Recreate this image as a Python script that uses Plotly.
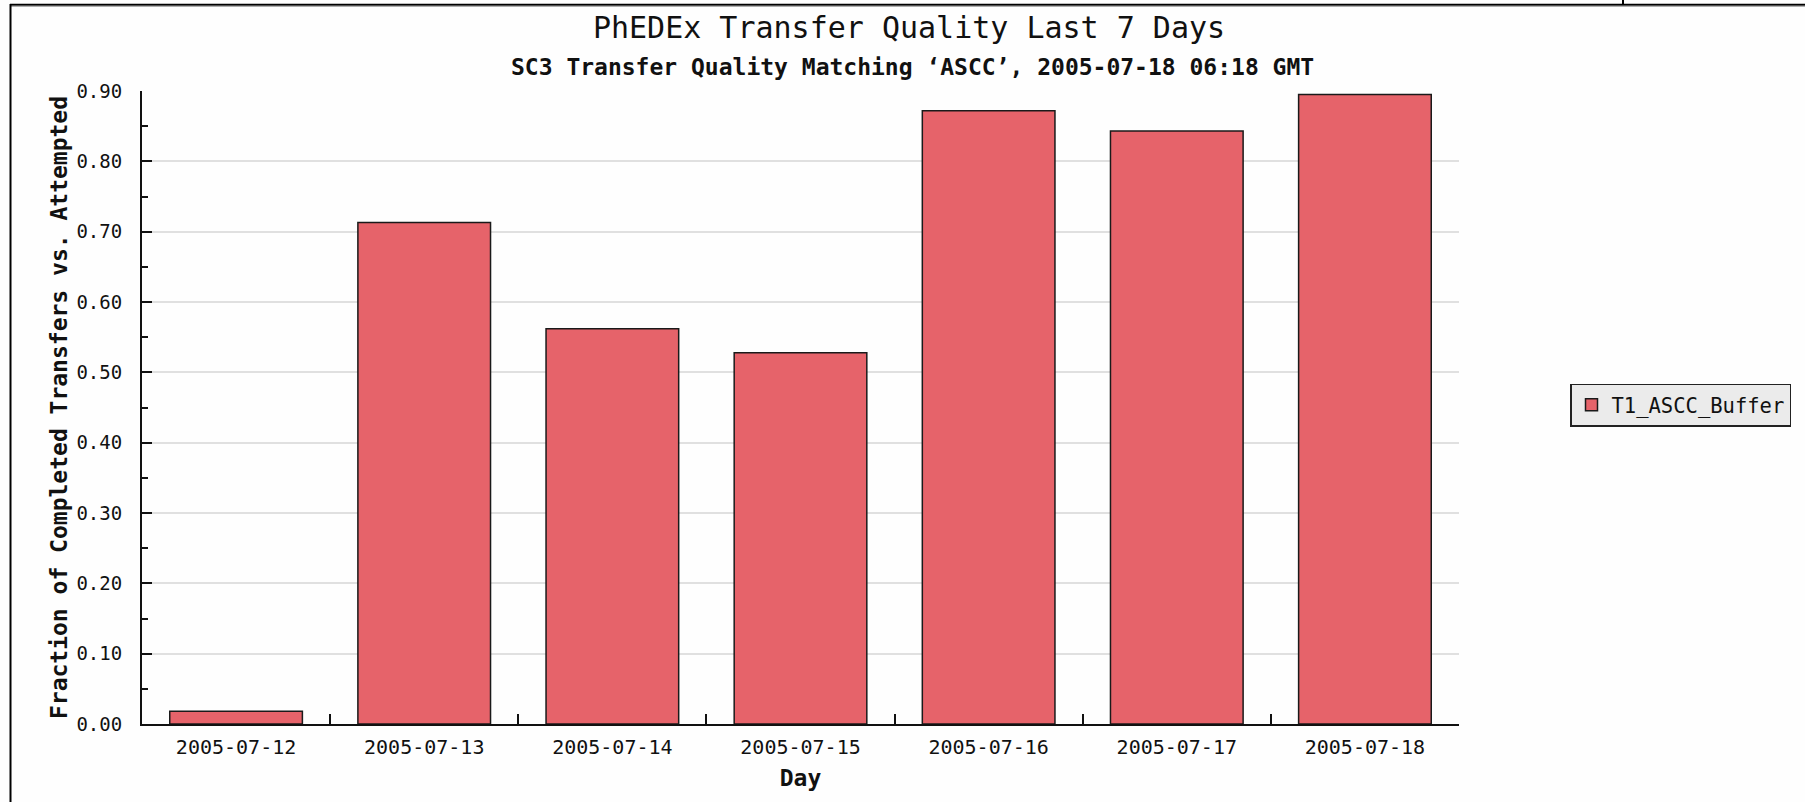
import plotly.graph_objects as go

# ---- data ----
days = ["2005-07-12", "2005-07-13", "2005-07-14", "2005-07-15",
        "2005-07-16", "2005-07-17", "2005-07-18"]
quality = [0.018, 0.713, 0.562, 0.528, 0.872, 0.843, 0.895]
series_name = "T1_ASCC_Buffer"
y_tick_values = [0.0, 0.1, 0.2, 0.3, 0.4, 0.5, 0.6, 0.7, 0.8, 0.9]
y_tick_labels = ["0.00", "0.10", "0.20", "0.30", "0.40",
                 "0.50", "0.60", "0.70", "0.80", "0.90"]
title_text = "PhEDEx Transfer Quality Last 7 Days"
subtitle_text = "SC3 Transfer Quality Matching \u2018ASCC\u2019, 2005-07-18 06:18 GMT"
x_title = "Day"
y_title = "Fraction of Completed Transfers vs. Attempted"

# ---- layout geometry (pixels) ----
W, H = 1805, 802
L, R, T, B = 142, 1459, 91, 724
PW, PH = R - L, B - T


def px(xp):
    return (xp - L) / PW


def py(yp):
    return (B - yp) / PH


FONT = "DejaVu Sans Mono"
INK = "#111111"

fig = go.Figure()
fig.add_trace(go.Bar(
    x=days, y=quality, name=series_name,
    marker=dict(color="#e6636a", line=dict(color="#1a1a1a", width=1.5)),
    showlegend=True,
))

shapes = [
    # outer frame pieces
    dict(type="line", xref="paper", yref="paper", x0=px(10), x1=px(1805), y0=py(4.7), y1=py(4.7),
         line=dict(color="#000000", width=2)),
    dict(type="line", xref="paper", yref="paper", x0=px(10), x1=px(1805), y0=py(6.3), y1=py(6.3),
         line=dict(color="#9a9a9a", width=1)),
    dict(type="line", xref="paper", yref="paper", x0=px(10.5), x1=px(10.5), y0=py(4), y1=py(802),
         line=dict(color="#000000", width=2)),
    dict(type="line", xref="paper", yref="paper", x0=px(1623), x1=px(1623), y0=py(0), y1=py(5),
         line=dict(color="#000000", width=2)),
]

fig.update_layout(
    width=W, height=H,
    margin=dict(l=L, r=W - R, t=T, b=H - B, pad=0, autoexpand=False),
    paper_bgcolor="#fefefe", plot_bgcolor="#fefefe",
    font=dict(family=FONT, color=INK, size=19),
    bargap=0.295,
    title=dict(text=title_text, x=909 / W, xref="container", xanchor="center",
               y=1 - 27.5 / H, yref="container", yanchor="middle",
               font=dict(family=FONT, size=30, color=INK)),
    annotations=[dict(text="<b>" + subtitle_text + "</b>", xref="paper", yref="paper",
                      x=px(912), y=py(67), xanchor="center", yanchor="middle",
                      showarrow=False, font=dict(family=FONT, size=23, color=INK))],
    shapes=shapes,
    legend=dict(x=px(1570), xanchor="left", y=py(405), yanchor="middle",
                bgcolor="#ebebeb", bordercolor="#222222", borderwidth=1.5,
                font=dict(family=FONT, size=20.5, color=INK)),
    xaxis=dict(
        type="category", range=[-0.5, 6.5],
        showline=True, linecolor=INK, linewidth=2, mirror=False,
        ticks="inside", tickson="boundaries", ticklen=10, tickwidth=1.5, tickcolor=INK,
        showgrid=False, tickfont=dict(family=FONT, size=20, color=INK),
        ticklabelstandoff=4,
        title=dict(text="<b>" + x_title + "</b>", standoff=12,
                   font=dict(family=FONT, size=23, color=INK)),
        automargin=False, fixedrange=True,
    ),
    yaxis=dict(
        range=[0, 0.9], tickmode="array", tickvals=y_tick_values, ticktext=y_tick_labels,
        showline=True, linecolor=INK, linewidth=2,
        ticks="inside", ticklen=10, tickwidth=1.5, tickcolor=INK,
        showgrid=True, gridcolor="#e0e0e0", gridwidth=1.5, zeroline=False,
        minor=dict(tickmode="linear", tick0=0, dtick=0.05, ticks="inside", ticklen=6,
                   tickwidth=1.5, tickcolor=INK, showgrid=False),
        tickfont=dict(family=FONT, size=19, color=INK),
        ticklabelstandoff=14,
        title=dict(text="<b>" + y_title + "</b>", standoff=2,
                   font=dict(family=FONT, size=23, color=INK)),
        automargin=False, fixedrange=True,
    ),
)

fig.write_html("out.html",
               config={"displayModeBar": False},
               post_script="document.body.style.margin='0';document.body.style.overflow='hidden';")
